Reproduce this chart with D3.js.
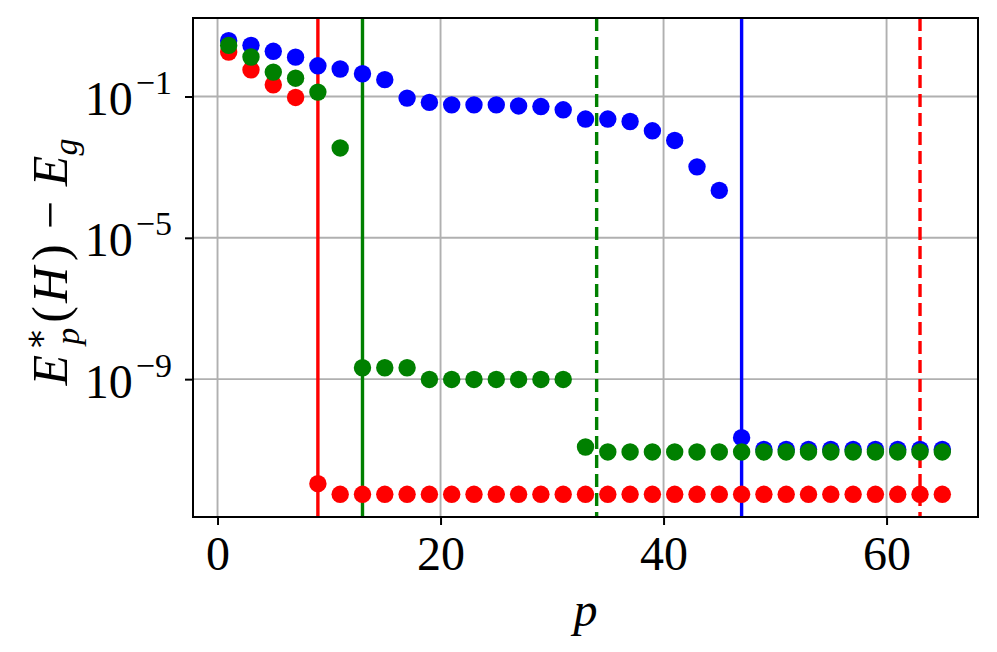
<!DOCTYPE html>
<html>
<head>
<meta charset="utf-8">
<script src="https://cdn.jsdelivr.net/npm/d3@7"></script>
<style>
  body { margin: 0; background: #fff; }
  svg { display: block; font-family: "Liberation Serif", "DejaVu Serif", serif; }
</style>
</head>
<body>
<svg id="chart" width="997" height="652"></svg>
<script>
var pValues = [1, 3, 5, 7, 9, 11, 13, 15, 17, 19, 21, 23, 25, 27, 29, 31, 33,
               35, 37, 39, 41, 43, 45, 47, 49, 51, 53, 55, 57, 59, 61, 63, 65];

var blueValues = [3.8, 2.8, 1.9, 1.3, 0.74, 0.60, 0.44, 0.30, 0.090, 0.068, 0.058,
                  0.058, 0.058, 0.054, 0.052, 0.042, 0.023, 0.023, 0.0196, 0.0107,
                  0.0057, 0.00102, 0.00022, 2.2e-11, 1.02e-11, 1.02e-11, 1.02e-11,
                  1.02e-11, 1.02e-11, 1.02e-11, 1.02e-11, 1.02e-11, 1.02e-11];

var redValues = [1.81, 0.57, 0.215, 0.094, 1.1e-12, 5.5e-13, 5.5e-13, 5.5e-13, 5.5e-13,
                 5.5e-13, 5.5e-13, 5.5e-13, 5.5e-13, 5.5e-13, 5.5e-13, 5.5e-13, 5.5e-13,
                 5.5e-13, 5.5e-13, 5.5e-13, 5.5e-13, 5.5e-13, 5.5e-13, 5.5e-13, 5.5e-13,
                 5.5e-13, 5.5e-13, 5.5e-13, 5.5e-13, 5.5e-13, 5.5e-13, 5.5e-13, 5.5e-13];

var greenValues = [2.79, 1.31, 0.49, 0.33, 0.133, 0.0035, 2.1e-9, 2.1e-9, 2.1e-9,
                   9.8e-10, 9.8e-10, 9.8e-10, 9.8e-10, 9.8e-10, 9.8e-10, 9.8e-10, 1.2e-11,
                   8.7e-12, 8.7e-12, 8.7e-12, 8.7e-12, 8.7e-12, 8.7e-12, 8.7e-12, 8.7e-12,
                   8.7e-12, 8.7e-12, 8.7e-12, 8.7e-12, 8.7e-12, 8.7e-12, 8.7e-12, 8.7e-12];

// vertical markers
var vlinePos = [9, 13, 34, 47, 63];
var vlineColor = ["#ff0000", "#008000", "#008000", "#0000ff", "#ff0000"];
var vlineDashed = [false, false, true, false, true];

var xTicks = [0, 20, 40, 60];
var yTicks = [1e-1, 1e-5, 1e-9];
var yTickExp = ["\u22121", "\u22125", "\u22129"];

var series = [
  { color: "#0000ff", values: blueValues },
  { color: "#ff0000", values: redValues },
  { color: "#008000", values: greenValues }
];

var margin = { top: 18, right: 19, bottom: 135, left: 193 };
var width = 997 - margin.left - margin.right;
var height = 652 - margin.top - margin.bottom;

var svg = d3.select('#chart');
var g = svg.append('g')
  .attr('transform', 'translate(' + margin.left + ',' + margin.top + ')');

// matplotlib-like 5% margins (log space for y)
var xMin = d3.min(pValues), xMax = d3.max(pValues);
var xPad = (xMax - xMin) * 0.05;
var x = d3.scaleLinear()
  .domain([xMin - xPad, xMax + xPad])
  .range([0, width]);

var allY = blueValues.concat(redValues, greenValues);
var lMin = Math.log10(d3.min(allY)), lMax = Math.log10(d3.max(allY));
var lPad = (lMax - lMin) * 0.05;
var y = d3.scaleLog()
  .domain([Math.pow(10, lMin - lPad), Math.pow(10, lMax + lPad)])
  .range([height, 0]);

/* GRID */
g.append('g').selectAll('line.gx')
  .data(xTicks)
  .enter()
  .append('line')
  .attr('x1', d => x(d)).attr('x2', d => x(d))
  .attr('y1', 0).attr('y2', height)
  .style('stroke', '#b0b0b0')
  .style('stroke-width', 1.9);

g.append('g').selectAll('line.gy')
  .data(yTicks)
  .enter()
  .append('line')
  .attr('x1', 0).attr('x2', width)
  .attr('y1', d => y(d)).attr('y2', d => y(d))
  .style('stroke', '#b0b0b0')
  .style('stroke-width', 1.9);

/* VERTICAL LINES */
g.append('g').selectAll('line.vline')
  .data(vlinePos)
  .enter()
  .append('line')
  .attr('x1', d => x(d)).attr('x2', d => x(d))
  .attr('y1', 0).attr('y2', height)
  .style('stroke', (d, i) => vlineColor[i])
  .style('stroke-width', 3.4)
  .style('stroke-dasharray', (d, i) => vlineDashed[i] ? '13,6' : null);

/* POINTS */
series.forEach(function(s) {
  g.append('g').selectAll('circle')
    .data(s.values)
    .enter()
    .append('circle')
    .attr('cx', (d, i) => x(pValues[i]))
    .attr('cy', d => y(d))
    .attr('r', 8.7)
    .style('fill', s.color);
});

/* AXES */
var xAxis = g.append('g')
  .attr('transform', 'translate(0,' + height + ')')
  .call(d3.axisBottom(x).tickValues(xTicks).tickSize(8).tickPadding(11).tickFormat(d3.format('d')));

var yAxis = g.append('g')
  .call(d3.axisLeft(y).tickValues(yTicks).tickSize(8).tickPadding(13).tickFormat(''));

[xAxis, yAxis].forEach(function(a) {
  a.select('.domain').remove();
  a.selectAll('.tick line').style('stroke', '#000').style('stroke-width', 2);
  a.selectAll('.tick text')
    .style('font-family', '"Liberation Serif", "DejaVu Serif", serif')
    .style('font-size', '48px')
    .style('fill', '#000');
});

yAxis.selectAll('.tick text')
  .attr('dy', null)
  .attr('y', 18)
  .each(function(d, i) {
    var t = d3.select(this);
    t.append('tspan').text('10');
    t.append('tspan')
      .attr('dx', 3)
      .attr('dy', -21)
      .style('font-size', '34px')
      .text(yTickExp[i]);
  });

// frame
g.append('rect')
  .attr('width', width)
  .attr('height', height)
  .style('fill', 'none')
  .style('stroke', '#000')
  .style('stroke-width', 2);

/* LABELS */
svg.append('text')
  .attr('x', margin.left + width / 2)
  .attr('y', 626)
  .attr('text-anchor', 'middle')
  .style('font-size', '48px')
  .style('font-style', 'italic')
  .text('p');

var ylab = svg.append('text')
  .attr('transform', 'translate(67,262) rotate(-90)')
  .attr('text-anchor', 'middle')
  .style('font-size', '50px');
ylab.append('tspan').style('font-style', 'italic').text('E');
ylab.append('tspan').attr('dx', 4).attr('dy', -20).style('font-size', '34px').text('\u2217');
ylab.append('tspan').attr('dx', -17).attr('dy', 32).style('font-size', '34px').style('font-style', 'italic').text('p');
ylab.append('tspan').attr('dx', 5).attr('dy', -12).text('(');
ylab.append('tspan').attr('dx', 3).style('font-style', 'italic').text('H');
ylab.append('tspan').attr('dx', 6).text(')');
ylab.append('tspan').attr('dx', 15).text('\u2212');
ylab.append('tspan').attr('dx', 15).style('font-style', 'italic').text('E');
ylab.append('tspan').attr('dy', 10).style('font-size', '34px').style('font-style', 'italic').text('g');
</script>
</body>
</html>
